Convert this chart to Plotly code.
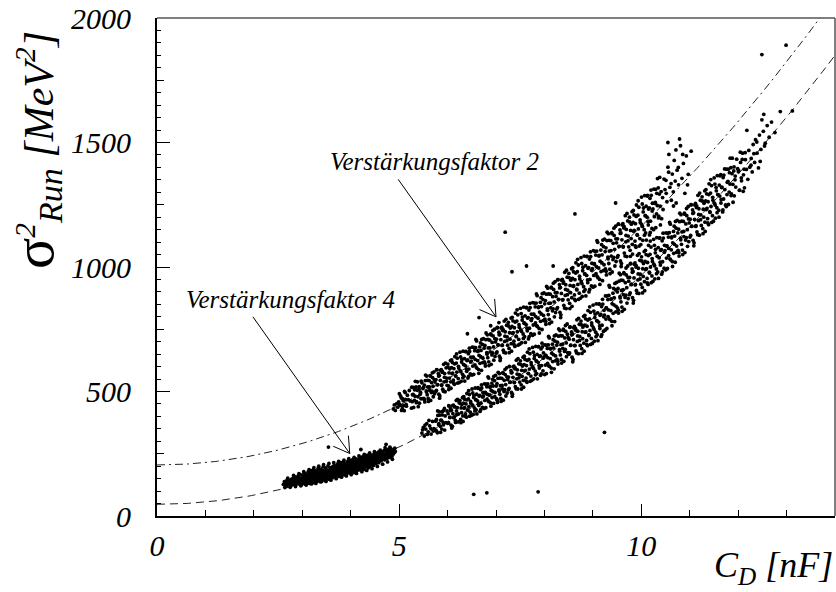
import math
import plotly.graph_objects as go

# Fit results: sigma^2 = a + b * C_D^2
fit_gain2 = (205.0, 9.58)
fit_gain4 = (47.0, 9.20)

x_range = [0, 14]
y_range = [0, 2000]
x_ticks = [0, 5, 10]
y_ticks = [0, 500, 1000, 1500, 2000]

# Runs taken with amplification factor 4 (small C_D)
gain4_points = [
    (2.61,127),(2.63,138),(2.64,124),(2.66,133),(2.67,141),(2.68,121),(2.69,130),(2.70,136),
    (2.71,129),(2.72,144),(2.73,134),(2.74,123),(2.76,140),(2.77,131),(2.78,148),(2.79,126),
    (2.80,139),(2.81,151),(2.82,128),(2.83,145),(2.84,135),(2.85,157),(2.86,124),(2.87,143),(2.88,132),(2.89,150),
    (2.90,138),(2.91,160),(2.92,129),(2.93,148),(2.94,153),(2.95,134),(2.96,166),(2.97,143),(2.98,126),(2.99,151),
    (3.00,145),(3.01,163),(3.01,131),(3.02,157),(3.03,140),(3.04,172),(3.05,149),(3.06,128),(3.06,160),(3.07,137),(3.08,154),(3.08,168),(3.09,143),(3.10,132),
    (3.10,161),(3.11,148),(3.12,177),(3.12,136),(3.13,155),(3.14,166),(3.15,131),(3.15,151),(3.16,172),(3.17,143),(3.18,159),(3.18,182),(3.19,139),(3.20,164),
    (3.20,149),(3.21,175),(3.22,134),(3.22,160),(3.23,187),(3.24,152),(3.25,168),(3.26,141),(3.26,179),(3.27,157),(3.28,136),(3.29,171),(3.29,162),(3.30,146),
    (3.30,183),(3.31,158),(3.32,140),(3.32,173),(3.33,192),(3.34,151),(3.35,166),(3.36,179),(3.36,144),(3.37,162),(3.38,188),(3.39,155),(3.39,172),(3.40,139),
    (3.40,167),(3.41,184),(3.42,151),(3.43,197),(3.43,163),(3.44,175),(3.45,145),(3.46,181),(3.46,158),(3.47,170),(3.48,193),(3.48,149),(3.49,176),(3.50,162),
    (3.50,186),(3.51,155),(3.52,174),(3.53,201),(3.53,166),(3.54,148),(3.55,182),(3.56,170),(3.57,194),(3.57,159),(3.58,178),(3.59,153),(3.60,188),(3.60,171),
    (3.61,163),(3.62,197),(3.62,178),(3.63,154),(3.64,186),(3.65,170),(3.66,204),(3.66,160),(3.67,182),(3.68,193),(3.69,167),(3.69,157),(3.70,189),(3.70,176),
    (3.71,198),(3.72,165),(3.72,184),(3.73,209),(3.74,174),(3.75,191),(3.76,159),(3.76,180),(3.77,202),(3.78,170),(3.79,188),(3.79,214),(3.80,163),(3.80,195),
    (3.81,182),(3.82,203),(3.82,171),(3.83,190),(3.84,216),(3.85,177),(3.86,196),(3.86,165),(3.87,207),(3.88,186),(3.88,174),(3.89,199),(3.90,181),(3.90,212),
    (3.91,169),(3.92,193),(3.92,205),(3.93,183),(3.94,220),(3.95,176),(3.96,200),(3.96,189),(3.97,211),(3.98,172),(3.98,196),(3.99,184),(4.00,207),(4.00,222),
    (4.01,190),(4.02,178),(4.02,214),(4.03,199),(4.04,226),(4.05,185),(4.06,208),(4.06,174),(4.07,195),(4.08,219),(4.08,203),(4.09,182),(4.10,211),(4.10,192),
    (4.11,229),(4.12,198),(4.12,180),(4.13,214),(4.14,205),(4.15,190),(4.16,223),(4.16,209),(4.17,185),(4.18,217),(4.18,232),(4.19,197),(4.20,208),(4.20,188),
    (4.21,221),(4.22,201),(4.22,236),(4.23,190),(4.24,214),(4.25,226),(4.26,196),(4.26,209),(4.27,240),(4.28,219),(4.28,187),(4.29,205),(4.30,230),(4.30,216),
    (4.31,198),(4.32,227),(4.32,212),(4.33,243),(4.34,204),(4.35,221),(4.36,193),(4.36,234),(4.37,215),(4.38,247),(4.38,209),(4.39,226),(4.40,199),(4.40,238),
    (4.41,218),(4.42,232),(4.42,205),(4.43,244),(4.44,221),(4.45,212),(4.46,239),(4.46,228),(4.47,203),(4.48,248),(4.48,225),(4.49,214),(4.50,236),(4.50,219),
    (4.51,243),(4.52,224),(4.52,210),(4.53,251),(4.54,233),(4.55,218),(4.56,240),(4.56,227),(4.57,256),(4.58,214),(4.58,237),(4.59,229),(4.60,247),(4.60,221),
    (4.61,232),(4.62,251),(4.63,222),(4.64,241),(4.65,258),(4.66,229),(4.67,246),(4.68,236),(4.69,262),(4.70,226),
    (4.71,249),(4.72,237),(4.73,264),(4.74,245),(4.75,231),(4.76,255),(4.77,241),(4.78,268),(4.79,250),(4.80,236),
    (4.81,258),(4.82,246),(4.83,270),(4.84,253),(4.85,240),(4.86,262),(4.88,249),(4.89,266),(4.90,255),(4.92,259),
    (2.64,114),(2.70,152),(2.75,115),(2.82,163),(2.86,118),(2.93,170),(2.97,121),(3.03,178),(3.08,124),(3.14,186),
    (3.19,129),(3.24,194),(3.28,131),(3.34,200),(3.38,137),(3.44,206),(3.49,139),(3.55,211),(3.59,144),(3.65,214),
    (3.70,150),(3.75,219),(3.81,156),(3.86,224),(3.91,161),(3.96,230),(4.01,166),(4.07,235),(4.12,171),(4.17,241),
    (4.23,178),(4.28,247),(4.33,183),(4.39,253),(4.44,190),(4.49,258),(4.55,199),(4.61,264),(4.66,208),(4.71,274),
    (4.76,217),(4.81,277),(4.86,228),(4.91,272),
]

# Amplification factor 2, runs following the upper fit
band_high_points = [
    (4.88,430),(4.90,446),(4.92,424),(4.95,451),(4.97,437),(4.99,458),
    (5.01,448),(5.03,482),(5.05,424),(5.07,471),(5.09,443),(5.11,500),(5.13,468),(5.15,441),(5.17,485),(5.19,467),(5.21,504),(5.23,462),
    (5.26,517),(5.27,459),(5.29,488),(5.30,436),(5.32,507),(5.33,481),(5.35,518),(5.36,459),(5.38,539),(5.39,479),(5.41,509),(5.42,453),(5.44,497),(5.45,471),(5.47,535),(5.49,512),
    (5.51,472),(5.52,526),(5.53,458),(5.54,544),(5.56,502),(5.57,562),(5.58,487),(5.59,518),(5.60,472),(5.62,544),(5.63,505),(5.64,564),(5.65,464),(5.67,536),(5.68,501),(5.69,556),(5.70,521),(5.72,579),(5.73,491),(5.74,538),
    (5.76,548),(5.77,504),(5.78,587),(5.79,527),(5.81,572),(5.82,489),(5.83,564),(5.84,482),(5.85,545),(5.87,588),(5.88,527),(5.89,577),(5.90,509),(5.92,609),(5.93,539),(5.94,572),(5.95,499),(5.97,595),(5.98,554),(5.99,525),
    (6.01,598),(6.02,522),(6.03,575),(6.04,554),(6.06,624),(6.07,513),(6.08,596),(6.09,572),(6.10,616),(6.12,546),(6.13,592),(6.14,529),(6.15,640),(6.17,562),(6.18,614),(6.19,578),(6.20,634),(6.22,552),(6.23,594),(6.24,536),
    (6.26,584),(6.27,639),(6.28,541),(6.29,618),(6.31,569),(6.32,662),(6.33,608),(6.34,561),(6.35,632),(6.37,603),(6.38,661),(6.39,589),(6.40,624),(6.42,554),(6.43,652),(6.44,590),(6.45,674),(6.47,571),(6.48,638),(6.49,622),
    (6.51,678),(6.52,602),(6.53,638),(6.54,569),(6.56,664),(6.57,629),(6.58,676),(6.59,598),(6.60,703),(6.62,624),(6.63,664),(6.64,588),(6.65,645),(6.67,613),(6.68,695),(6.69,665),(6.70,585),(6.72,689),(6.73,634),(6.74,712),
    (6.76,619),(6.77,685),(6.78,602),(6.79,708),(6.81,656),(6.82,728),(6.83,636),(6.84,675),(6.85,619),(6.87,706),(6.88,659),(6.89,731),(6.90,609),(6.92,697),(6.93,655),(6.94,723),(6.95,679),(6.97,750),(6.98,641),(6.99,699),
    (7.01,710),(7.02,659),(7.03,756),(7.04,687),(7.06,738),(7.07,642),(7.08,729),(7.09,634),(7.10,708),(7.12,758),(7.13,686),(7.14,745),(7.15,666),(7.17,783),(7.18,701),(7.19,740),(7.20,655),(7.22,766),(7.23,719),(7.24,686),
    (7.26,763),(7.27,673),(7.28,736),(7.29,710),(7.31,795),(7.32,662),(7.33,761),(7.34,734),(7.35,784),(7.37,702),(7.38,756),(7.39,681),(7.40,815),(7.42,720),(7.43,783),(7.44,740),(7.45,808),(7.47,709),(7.48,758),(7.49,690),
    (7.51,747),(7.52,813),(7.53,696),(7.54,787),(7.56,731),(7.57,839),(7.58,775),(7.59,720),(7.60,804),(7.62,769),(7.63,838),(7.64,754),(7.65,795),(7.67,711),(7.68,827),(7.69,754),(7.70,854),(7.72,732),(7.73,811),(7.74,793),
    (7.76,857),(7.77,767),(7.78,811),(7.79,730),(7.81,840),(7.82,801),(7.83,855),(7.84,764),(7.85,885),(7.87,794),(7.88,840),(7.89,753),(7.90,819),(7.92,782),(7.93,877),(7.94,841),(7.95,749),(7.97,869),(7.98,806),(7.99,896),
    (8.01,791),(8.02,865),(8.03,770),(8.04,891),(8.06,832),(8.07,915),(8.08,809),(8.09,854),(8.10,790),(8.12,891),(8.13,836),(8.14,919),(8.15,779),(8.17,881),(8.18,832),(8.19,910),(8.20,860),(8.22,941),(8.23,817),(8.24,882),
    (8.26,897),(8.27,837),(8.28,949),(8.29,869),(8.31,929),(8.32,818),(8.33,918),(8.34,808),(8.35,894),(8.37,950),(8.38,869),(8.39,935),(8.40,846),(8.42,979),(8.43,886),(8.44,929),(8.45,833),(8.47,959),(8.48,907),(8.49,868),
    (8.51,957),(8.52,854),(8.53,926),(8.54,897),(8.56,993),(8.57,842),(8.58,954),(8.59,923),(8.60,981),(8.62,888),(8.63,949),(8.64,865),(8.65,1017),(8.67,908),(8.68,981),(8.69,930),(8.70,1008),(8.72,895),(8.73,952),(8.74,874),
    (8.76,941),(8.77,1014),(8.78,882),(8.79,985),(8.81,921),(8.82,1044),(8.83,972),(8.84,909),(8.85,1005),(8.87,966),(8.88,1043),(8.89,948),(8.90,995),(8.92,900),(8.93,1032),(8.94,950),(8.95,1061),(8.97,924),(8.98,1015),(8.99,993),
    (9.01,1066),(9.02,966),(9.03,1013),(9.04,923),(9.06,1048),(9.07,1002),(9.08,1064),(9.09,962),(9.10,1099),(9.12,996),(9.13,1047),(9.14,950),(9.15,1023),(9.17,982),(9.18,1090),(9.19,1049),(9.20,945),(9.22,1082),(9.23,1009),(9.24,1112),
    (9.26,992),(9.27,1077),(9.28,968),(9.29,1106),(9.31,1040),(9.32,1134),(9.33,1014),(9.34,1064),(9.35,991),(9.37,1106),(9.38,1044),(9.39,1138),(9.40,980),(9.42,1095),(9.43,1039),(9.44,1127),(9.45,1071),(9.47,1164),(9.48,1022),(9.49,1097),
    (9.51,1113),(9.52,1046),(9.53,1172),(9.54,1082),(9.56,1149),(9.57,1024),(9.58,1137),(9.59,1014),(9.60,1109),(9.62,1174),(9.63,1082),(9.64,1157),(9.65,1056),(9.67,1206),(9.68,1101),(9.69,1151),(9.70,1042),(9.72,1185),(9.73,1124),(9.74,1081),
    (9.76,1181),(9.77,1067),(9.78,1147),(9.79,1114),(9.81,1222),(9.82,1052),(9.83,1179),(9.84,1144),(9.85,1209),(9.87,1104),(9.88,1174),(9.89,1079),(9.90,1249),(9.92,1128),(9.93,1208),(9.94,1153),(9.95,1240),(9.97,1114),(9.98,1178),(9.99,1090),
    (10.01,1171),(10.02,1253),(10.03,1107),(10.04,1221),(10.06,1150),(10.07,1287),(10.08,1206),(10.09,1137),(10.10,1244),(10.12,1200),(10.13,1288),(10.14,1182),(10.15,1233),(10.17,1129),(10.18,1276),(10.19,1184),(10.20,1309),(10.22,1155),(10.23,1256),(10.24,1233),
    (10.26,1313),(10.27,1202),(10.29,1259),(10.30,1158),(10.32,1296),(10.33,1247),(10.35,1318),(10.36,1204),(10.38,1360),(10.39,1244),(10.41,1303),(10.42,1194),(10.44,1279),(10.45,1231),(10.47,1353),(10.49,1311),
    (10.51,1348),(10.53,1262),(10.55,1401),(10.57,1452),(10.59,1320),(10.62,1268),(10.64,1373),(10.66,1302),(10.68,1428),(10.70,1345),(10.72,1257),(10.74,1389),
    (10.77,1330),(10.79,1514),(10.81,1487),(10.84,1356),(10.87,1416),(10.90,1296),(10.93,1446),(10.97,1372),(11.03,1465),
    # second pass over the same band
    (5.005,491),(5.025,444),(5.045,474),(5.065,431),(5.085,463),(5.105,423),(5.125,496),(5.145,448),
    (5.255,433),(5.275,487),(5.295,516),(5.315,464),(5.335,541),(5.355,455),(5.375,505),(5.395,439),(5.415,519),(5.435,489),(5.455,542),(5.475,471),
    (5.505,517),(5.525,467),(5.545,566),(5.565,498),(5.585,545),(5.605,460),(5.625,518),(5.645,562),(5.665,496),(5.685,575),(5.705,479),(5.725,548),
    (5.755,500),(5.775,588),(5.795,528),(5.815,562),(5.835,473),(5.855,585),(5.875,525),(5.895,580),(5.915,501),(5.935,557),(5.955,614),(5.975,541),
    (6.005,610),(6.025,508),(6.045,591),(6.065,539),(6.085,627),(6.105,574),(6.125,535),(6.145,611),(6.165,563),(6.185,651),(6.205,534),(6.225,601),
    (6.255,658),(6.275,579),(6.295,629),(6.315,555),(6.335,608),(6.355,542),(6.375,660),(6.395,581),(6.415,627),(6.435,561),(6.455,661),(6.475,618),
    (6.505,566),(6.525,637),(6.545,677),(6.565,607),(6.585,709),(6.605,594),(6.625,661),(6.645,573),(6.665,679),(6.685,640),(6.705,709),(6.725,616),
    (6.755,674),(6.775,612),(6.795,735),(6.815,650),(6.835,709),(6.855,604),(6.875,675),(6.895,728),(6.915,647),(6.935,745),(6.955,626),(6.975,712),
    (7.005,654),(7.025,757),(7.045,687),(7.065,728),(7.085,624),(7.105,755),(7.125,685),(7.145,749),(7.165,657),(7.185,722),(7.205,790),(7.225,704),
    (7.255,778),(7.275,656),(7.295,755),(7.315,692),(7.335,798),(7.355,736),(7.375,688),(7.395,779),(7.415,722),(7.435,828),(7.455,686),(7.475,768),
    (7.505,834),(7.525,742),(7.545,799),(7.565,713),(7.585,774),(7.605,697),(7.625,836),(7.645,744),(7.665,797),(7.685,720),(7.705,837),(7.725,786),
    (7.755,726),(7.775,810),(7.795,855),(7.815,775),(7.835,892),(7.855,761),(7.875,837),(7.895,735),(7.915,858),(7.935,812),(7.955,893),(7.975,785),
    (8.005,852),(8.025,782),(8.045,922),(8.065,826),(8.085,892),(8.105,773),(8.125,855),(8.145,916),(8.165,824),(8.185,935),(8.205,800),(8.225,897),
    (8.255,831),(8.275,949),(8.295,870),(8.315,916),(8.335,797),(8.355,947),(8.375,867),(8.395,940),(8.415,835),(8.435,910),(8.455,987),(8.475,889),
    (8.505,974),(8.525,833),(8.545,947),(8.565,877),(8.585,997),(8.605,925),(8.625,870),(8.645,976),(8.665,911),(8.685,1031),(8.705,870),(8.725,963),
    (8.755,1038),(8.775,933),(8.795,999),(8.815,902),(8.835,972),(8.855,884),(8.875,1042),(8.895,937),(8.915,997),(8.935,910),(8.955,1042),(8.975,987),
    (9.005,919),(9.025,1012),(9.045,1063),(9.065,973),(9.085,1106),(9.105,957),(9.125,1044),(9.145,930),(9.165,1068),(9.185,1017),(9.205,1108),(9.225,986),
    (9.255,1062),(9.275,983),(9.295,1140),(9.315,1033),(9.335,1107),(9.355,973),(9.375,1066),(9.395,1134),(9.415,1030),(9.435,1156),(9.455,1004),(9.475,1113),
    (9.505,1039),(9.525,1172),(9.545,1083),(9.565,1135),(9.585,1002),(9.605,1169),(9.625,1080),(9.645,1163),(9.665,1044),(9.685,1127),(9.705,1215),(9.725,1105),
    (9.755,1200),(9.775,1043),(9.795,1172),(9.815,1091),(9.835,1227),(9.855,1147),(9.875,1085),(9.895,1203),(9.915,1130),(9.935,1266),(9.955,1084),(9.975,1189),
    (10.005,1281),(10.025,1163),(10.045,1237),(10.065,1128),(10.085,1206),(10.105,1108),(10.125,1285),(10.145,1169),(10.165,1237),(10.185,1139),(10.205,1288),(10.225,1225),
    (10.255,1150),(10.275,1256),(10.295,1312),(10.315,1213),(10.335,1355),(10.355,1197),(10.375,1293),(10.395,1169),
    (10.515,1296),(10.565,1381),(10.615,1335),(10.665,1245),(10.715,1470),(10.765,1400),(10.855,1452),(10.955,1330),
]

# Amplification factor 2, runs following the lower fit
band_low_points = [
    (5.47,333),(5.50,356),(5.52,321),(5.55,349),(5.57,371),(5.60,338),(5.63,362),(5.66,329),(5.69,380),(5.72,351),
    (5.76,344),(5.77,388),(5.79,334),(5.80,404),(5.82,371),(5.83,419),(5.85,360),(5.86,385),(5.88,349),(5.89,406),(5.91,376),(5.92,424),(5.94,345),(5.95,402),(5.97,375),(5.99,422),
    (6.01,411),(6.02,375),(6.03,442),(6.05,396),(6.06,431),(6.07,365),(6.08,425),(6.10,360),(6.11,411),(6.12,445),(6.14,398),(6.15,438),(6.16,384),(6.18,464),(6.19,408),(6.20,435),(6.22,378),(6.24,455),
    (6.26,452),(6.27,388),(6.28,434),(6.29,415),(6.31,476),(6.32,380),(6.33,453),(6.34,433),(6.35,469),(6.37,410),(6.38,450),(6.39,397),(6.40,492),(6.42,424),(6.43,470),(6.44,439),(6.45,488),(6.47,417),(6.48,453),(6.49,404),
    (6.51,446),(6.52,494),(6.53,408),(6.54,476),(6.56,433),(6.57,514),(6.58,467),(6.59,426),(6.60,489),(6.62,462),(6.63,515),(6.64,452),(6.65,482),(6.67,420),(6.68,508),(6.69,453),(6.70,527),(6.72,436),(6.73,496),(6.74,482),
    (6.76,531),(6.77,464),(6.78,496),(6.79,435),(6.81,519),(6.82,489),(6.83,531),(6.84,462),(6.85,554),(6.87,486),(6.88,520),(6.89,454),(6.90,504),(6.92,476),(6.93,549),(6.94,522),(6.95,452),(6.97,544),(6.98,496),(6.99,565),
    (7.01,471),(7.02,532),(7.03,456),(7.04,553),(7.06,506),(7.07,572),(7.08,489),(7.09,523),(7.10,472),(7.12,553),(7.13,510),(7.14,576),(7.15,465),(7.17,545),(7.18,507),(7.19,568),(7.20,528),(7.22,595),(7.23,494),(7.24,548),
    (7.26,558),(7.27,512),(7.28,600),(7.29,537),(7.31,584),(7.32,496),(7.33,576),(7.34,489),(7.35,557),(7.37,602),(7.38,537),(7.39,591),(7.40,519),(7.42,626),(7.43,551),(7.44,587),(7.45,510),(7.47,611),(7.48,568),(7.49,538),
    (7.51,609),(7.52,527),(7.53,585),(7.54,561),(7.56,638),(7.57,517),(7.58,608),(7.59,583),(7.60,629),(7.62,554),(7.63,604),(7.64,537),(7.65,658),(7.67,572),(7.68,629),(7.69,590),(7.70,652),(7.72,562),(7.73,607),(7.74,545),
    (7.76,597),(7.77,658),(7.78,551),(7.79,633),(7.81,582),(7.82,681),(7.83,623),(7.84,572),(7.85,649),(7.87,617),(7.88,680),(7.89,604),(7.90,641),(7.92,565),(7.93,671),(7.94,604),(7.95,694),(7.97,583),(7.98,655),(7.99,639),
    (8.01,687),(8.02,606),(8.03,645),(8.04,572),(8.06,673),(8.07,636),(8.08,687),(8.09,603),(8.10,715),(8.12,632),(8.13,673),(8.14,594),(8.15,654),(8.17,620),(8.18,708),(8.19,675),(8.20,591),(8.22,702),(8.23,643),(8.24,727),
    (8.26,629),(8.27,698),(8.28,610),(8.29,722),(8.31,668),(8.32,745),(8.33,647),(8.34,688),(8.35,629),(8.37,723),(8.38,673),(8.39,750),(8.40,621),(8.42,715),(8.43,669),(8.44,741),(8.45,695),(8.47,771),(8.48,656),(8.49,717),
    (8.51,710),(8.52,655),(8.53,759),(8.54,685),(8.56,739),(8.57,638),(8.58,731),(8.59,629),(8.60,708),(8.62,761),(8.63,685),(8.64,747),(8.65,663),(8.67,788),(8.68,701),(8.69,742),(8.70,652),(8.72,770),(8.73,721),(8.74,685),
    (8.76,768),(8.77,672),(8.78,740),(8.79,712),(8.81,802),(8.82,662),(8.83,766),(8.84,738),(8.85,792),(8.87,705),(8.88,762),(8.89,684),(8.90,825),(8.92,725),(8.93,792),(8.94,745),(8.95,818),(8.97,713),(8.98,766),(8.99,693),
    (9.01,756),(9.02,823),(9.03,702),(9.04,797),(9.06,738),(9.07,852),(9.08,784),(9.09,728),(9.10,816),(9.12,779),(9.13,852),(9.14,764),(9.15,806),(9.17,721),(9.18,841),(9.19,766),(9.20,870),(9.22,742),(9.23,826),(9.24,807),
    (9.26,884),(9.27,791),(9.28,836),(9.29,753),(9.31,869),(9.32,828),(9.33,886),(9.34,791),(9.35,919),(9.37,825),(9.38,872),(9.39,782),(9.40,852),(9.42,814),(9.43,914),(9.44,877),(9.45,781),(9.47,908),(9.48,842),(9.49,938),
    (9.51,835),(9.52,914),(9.53,815),(9.54,943),(9.56,881),(9.57,969),(9.58,860),(9.59,906),(9.60,839),(9.62,946),(9.63,889),(9.64,977),(9.65,830),(9.67,937),(9.68,887),(9.69,968),(9.70,917),(9.72,1004),(9.73,873),(9.74,943),
    (9.76,958),(9.77,896),(9.78,1014),(9.79,929),(9.81,992),(9.82,877),(9.83,982),(9.84,866),(9.85,956),(9.87,1016),(9.88,930),(9.89,1000),(9.90,906),(9.92,1047),(9.93,948),(9.94,995),(9.95,894),(9.97,1027),(9.98,971),(9.99,931),
    (10.01,1024),(10.02,918),(10.03,993),(10.04,962),(10.06,1062),(10.07,905),(10.08,1022),(10.09,990),(10.10,1050),(10.12,954),(10.13,1018),(10.14,930),(10.15,1087),(10.17,976),(10.18,1051),(10.19,1000),(10.20,1080),(10.22,964),(10.23,1022),(10.24,942),
    (10.26,1011),(10.27,1087),(10.28,952),(10.29,1057),(10.31,992),(10.32,1118),(10.33,1043),(10.34,980),(10.35,1078),(10.37,1037),(10.38,1117),(10.39,1019),(10.40,1067),(10.42,971),(10.43,1105),(10.44,1021),(10.45,1136),(10.47,995),(10.48,1087),(10.49,1066),
    (10.51,1137),(10.52,1036),(10.53,1085),(10.54,994),(10.56,1120),(10.57,1075),(10.58,1138),(10.59,1033),(10.60,1172),(10.62,1069),(10.63,1121),(10.64,1022),(10.65,1097),(10.67,1055),(10.68,1164),(10.69,1124),(10.70,1019),(10.72,1156),(10.73,1084),(10.74,1187),
    (10.76,1067),(10.77,1152),(10.78,1044),(10.79,1182),(10.81,1116),(10.82,1210),(10.83,1091),(10.84,1141),(10.85,1068),(10.87,1183),(10.88,1122),(10.89,1216),(10.90,1058),(10.92,1173),(10.93,1118),(10.94,1206),(10.95,1150),(10.97,1243),(10.98,1102),(10.99,1177),
    (11.01,1192),(11.02,1127),(11.03,1250),(11.04,1163),(11.06,1229),(11.07,1107),(11.08,1218),(11.09,1097),(11.10,1191),(11.12,1255),(11.13,1166),(11.14,1239),(11.15,1141),(11.17,1288),(11.18,1186),(11.19,1234),(11.20,1128),(11.22,1268),(11.23,1209),(11.24,1167),
    (11.26,1265),(11.27,1154),(11.28,1232),(11.29,1200),(11.31,1306),(11.32,1143),(11.33,1265),(11.34,1231),(11.35,1294),(11.37,1194),(11.38,1262),(11.39,1170),(11.40,1334),(11.42,1219),(11.43,1297),(11.44,1243),(11.45,1327),(11.47,1206),(11.48,1268),(11.49,1184),
    (11.51,1256),(11.52,1333),(11.53,1196),(11.55,1306),(11.56,1238),(11.57,1367),(11.58,1291),(11.60,1228),(11.61,1329),(11.62,1285),(11.64,1371),(11.65,1271),(11.66,1319),(11.68,1221),(11.69,1359),(11.70,1273),(11.72,1394),(11.74,1249),
    (11.76,1393),(11.77,1291),(11.79,1344),(11.80,1251),(11.82,1379),(11.83,1333),(11.85,1399),(11.86,1294),(11.88,1437),(11.89,1332),(11.91,1386),(11.92,1286),(11.94,1365),(11.95,1321),(11.97,1433),(11.99,1395),
    (12.01,1388),(12.03,1309),(12.05,1420),(12.07,1346),(12.09,1457),(12.11,1370),(12.13,1318),(12.15,1431),(12.17,1392),(12.18,1549),(12.20,1352),(12.22,1468),(12.24,1401),
    (12.27,1436),(12.29,1382),(12.31,1492),(12.34,1420),(12.36,1511),(12.39,1457),(12.42,1398),(12.44,1530),(12.47,1472),(12.49,1591),
    (12.52,1545),(12.53,1613),(12.56,1497),(12.60,1568),(12.64,1521),(12.69,1582),(12.76,1540),(12.87,1624),(13.12,1627),
    # second pass over the same band
    (5.485,346),(5.535,365),(5.585,328),(5.615,384),(5.655,351),(5.705,341),
    (5.755,381),(5.775,340),(5.795,422),(5.815,366),(5.835,405),(5.855,336),(5.875,384),(5.895,420),(5.915,366),(5.935,432),
    (6.005,372),(6.025,443),(6.045,396),(6.065,423),(6.085,353),(6.105,443),(6.125,395),(6.145,439),(6.165,376),(6.185,422),(6.205,468),(6.225,410),
    (6.255,464),(6.275,375),(6.295,448),(6.315,402),(6.335,479),(6.355,435),(6.375,400),(6.395,466),(6.415,426),(6.435,503),(6.455,401),(6.475,460),
    (6.505,510),(6.525,442),(6.545,484),(6.565,422),(6.585,467),(6.605,410),(6.625,513),(6.645,444),(6.665,484),(6.685,427),(6.705,514),(6.725,478),
    (6.755,432),(6.775,495),(6.795,530),(6.815,469),(6.835,559),(6.855,459),(6.875,517),(6.895,441),(6.915,534),(6.935,500),(6.955,561),(6.975,479),
    (7.005,522),(7.025,465),(7.045,577),(7.065,501),(7.085,554),(7.105,460),(7.125,524),(7.145,573),(7.165,500),(7.185,588),(7.205,482),(7.225,559),
    (7.255,507),(7.275,601),(7.295,538),(7.315,575),(7.335,481),(7.355,599),(7.375,536),(7.395,595),(7.415,511),(7.435,570),(7.455,632),(7.475,555),
    (7.505,623),(7.525,510),(7.545,602),(7.565,545),(7.585,642),(7.605,585),(7.625,541),(7.645,625),(7.665,573),(7.685,671),(7.705,541),(7.725,616),
    (7.755,677),(7.775,592),(7.795,645),(7.815,567),(7.835,622),(7.855,551),(7.875,680),(7.895,594),(7.915,643),(7.935,571),(7.955,679),(7.975,634),
    (8.005,568),(8.025,645),(8.045,686),(8.065,613),(8.085,721),(8.105,601),(8.125,671),(8.145,577),(8.165,690),(8.185,648),(8.205,723),(8.225,623),
    (8.255,686),(8.275,621),(8.295,751),(8.315,662),(8.335,724),(8.355,614),(8.375,690),(8.395,746),(8.415,661),(8.435,765),(8.455,640),(8.475,730),
    (8.505,650),(8.525,758),(8.545,686),(8.565,728),(8.585,619),(8.605,756),(8.625,684),(8.645,752),(8.665,655),(8.685,723),(8.705,794),(8.725,705),
    (8.755,783),(8.775,653),(8.795,759),(8.815,694),(8.835,806),(8.855,739),(8.875,689),(8.895,787),(8.915,727),(8.935,840),(8.955,689),(8.975,776),
    (9.005,847),(9.025,749),(9.045,811),(9.065,720),(9.085,785),(9.105,704),(9.125,851),(9.145,753),(9.165,810),(9.185,728),(9.205,851),(9.225,800),
    (9.255,747),(9.275,836),(9.295,884),(9.315,801),(9.335,926),(9.355,789),(9.375,870),(9.395,764),(9.415,895),(9.435,848),(9.455,934),(9.475,820),
    (9.505,900),(9.525,827),(9.545,975),(9.565,876),(9.585,947),(9.605,822),(9.625,909),(9.645,973),(9.665,878),(9.685,996),(9.705,855),(9.725,958),
    (9.755,889),(9.775,1013),(9.795,931),(9.815,979),(9.835,855),(9.855,1011),(9.875,928),(9.895,1005),(9.915,895),(9.935,972),(9.955,1054),(9.975,952),
    (10.005,1041),(10.025,896),(10.045,1014),(10.065,941),(10.085,1067),(10.105,993),(10.125,936),(10.145,1046),(10.165,979),(10.185,1104),(10.205,937),(10.225,1034),
    (10.255,1111),(10.275,1005),(10.295,1071),(10.315,973),(10.335,1043),(10.355,954),(10.375,1116),(10.395,1008),(10.415,1070),(10.435,980),(10.455,1116),(10.475,1059),
    (10.505,989),(10.525,1084),(10.545,1136),(10.565,1046),(10.585,1179),(10.605,1029),(10.625,1117),(10.645,1002),(10.665,1143),(10.685,1091),(10.705,1183),(10.725,1059),
    (10.755,1137),(10.775,1058),(10.795,1216),(10.815,1109),(10.835,1184),(10.855,1050),(10.875,1143),(10.895,1212),(10.915,1108),(10.935,1235),(10.955,1083),(10.975,1193),
    (11.005,1120),(11.025,1250),(11.045,1164),(11.065,1215),(11.085,1085),(11.105,1249),(11.125,1163),(11.145,1245),(11.165,1130),(11.185,1211),(11.205,1297),(11.225,1190),
    (11.255,1282),(11.275,1134),(11.295,1256),(11.315,1180),(11.335,1311),(11.355,1235),(11.375,1177),(11.395,1291),(11.415,1222),(11.435,1351),(11.455,1179),(11.475,1280),
    (11.505,1358),(11.525,1249),(11.545,1319),(11.565,1218),(11.585,1291),(11.605,1200),(11.625,1366),(11.645,1257),(11.665,1321),(11.685,1229),(11.705,1369),(11.725,1311),
    (11.755,1243),(11.775,1340),(11.795,1393),(11.815,1301),(11.835,1437),(11.855,1287),(11.875,1375),(11.895,1260),(11.915,1402),(11.935,1350),
    (12.005,1383),(12.025,1308),(12.045,1461),(12.065,1358),(12.085,1432),(12.105,1304),(12.125,1393),(12.145,1459),
    (12.265,1409),(12.325,1455),(12.385,1502),(12.455,1424),(12.545,1486),
]

# Isolated runs away from both bands
stray_points = [
    (6.54,87),(6.81,93),(7.87,97),(9.24,336),(3.54,277),(4.21,267),(4.73,288),
    (7.19,1140),(8.63,1213),(7.33,981),(7.63,1004),(8.18,1004),(9.47,1257),
    (12.49,1853),(12.99,1891),(6.65,797),(6.89,764),(7.06,777),(6.41,732),(10.55,1500),
]

# Labels with arrows: (text, text position, arrow tail, arrow tip)
labels = [
    ("Verstärkungsfaktor 2", (5.74, 1424), (4.98, 1352), (7.00, 800)),
    ("Verstärkungsfaktor 4", (2.75, 868), (1.98, 800), (3.98, 251)),
]

SERIF = "Liberation Serif"
W, H = 836, 592
M_L, M_R, M_T, M_B = 157, 1, 16, 76
px_x = (W - M_L - M_R) / (x_range[1] - x_range[0])
px_y = (H - M_T - M_B) / (y_range[1] - y_range[0])

fig = go.Figure()

# fitted curves
cx = [i * 0.05 for i in range(0, 281)]
for (a, b), dash in ((fit_gain2, "8px,4px,2px,4px"), (fit_gain4, "8px,5px")):
    fig.add_trace(go.Scatter(
        x=cx, y=[a + b * c * c for c in cx], mode="lines",
        line=dict(color="#222", width=1, dash=dash),
        hoverinfo="skip", showlegend=False,
    ))

for pts in (gain4_points, band_low_points, band_high_points, stray_points):
    xs, ys = zip(*pts)
    fig.add_trace(go.Scatter(
        x=list(xs), y=list(ys), mode="markers",
        marker=dict(color="black", size=3.8, line=dict(width=0)),
        showlegend=False,
    ))

# carrier for the secondary (medium length) y ticks
fig.add_trace(go.Scatter(x=[None], y=[None], yaxis="y2", showlegend=False))

shapes = []
annotations = []
for text, (tx, ty), (ax, ay), (hx, hy) in labels:
    annotations.append(dict(
        x=tx, y=ty, xref="x", yref="y", text=text, showarrow=False,
        font=dict(family=SERIF, size=25, color="black", style="italic"),
        xanchor="center", yanchor="middle",
    ))
    shapes.append(dict(type="line", xref="x", yref="y", x0=ax, y0=ay, x1=hx, y1=hy,
                       line=dict(color="black", width=1)))
    ang = math.atan2((ay - hy) * px_y, (ax - hx) * px_x)
    for s in (-1, 1):
        a2 = ang + s * math.radians(31)
        ex = hx + 18 * math.cos(a2) / px_x
        ey = hy + 18 * math.sin(a2) / px_y
        shapes.append(dict(type="line", xref="x", yref="y", x0=hx, y0=hy, x1=ex, y1=ey,
                           line=dict(color="black", width=1)))

# upper and right frame
shapes.append(dict(type="line", xref="paper", yref="paper", x0=0, y0=1, x1=1, y1=1,
                   line=dict(color="#555", width=1.5)))
shapes.append(dict(type="line", xref="paper", yref="paper", x0=1, y0=0, x1=1, y1=1,
                   line=dict(color="#555", width=1.5)))

annotations.append(dict(
    x=1.0, y=-0.104, xref="paper", yref="paper", xanchor="right", yanchor="middle",
    text="C<sub>D</sub> [nF]", showarrow=False,
    font=dict(family=SERIF, size=36, color="black", style="italic"),
))
annotations.append(dict(
    x=-0.18, y=0.735, xref="paper", yref="paper", xanchor="center", yanchor="middle",
    text=('<span style="font-style:normal;font-size:58px">σ</span><sup>2</sup>'
          '<sub><span style="font-size:34px">Run</span></sub> [MeV<sup>2</sup>]'),
    textangle=-90, showarrow=False,
    font=dict(family=SERIF, size=42, color="black", style="italic"),
))

tickfont = dict(family=SERIF, size=30, color="black", style="italic")
fig.update_layout(
    width=W, height=H,
    margin=dict(l=M_L, r=M_R, t=M_T, b=M_B, pad=0),
    paper_bgcolor="white", plot_bgcolor="white",
    xaxis=dict(
        range=x_range, tickvals=x_ticks, ticktext=[str(v) for v in x_ticks],
        ticks="inside", ticklen=12, tickwidth=1, tickcolor="black",
        showline=True, linewidth=2, linecolor="black",
        showgrid=False, zeroline=False, tickfont=tickfont, ticklabelstandoff=2,
        ticklabeloverflow="allow",
        minor=dict(dtick=1, tick0=0, ticks="inside", ticklen=6, tickwidth=1,
                   tickcolor="black", showgrid=False),
    ),
    yaxis=dict(
        range=y_range, tickvals=y_ticks, ticktext=[str(v) for v in y_ticks],
        ticks="inside", ticklen=13, tickwidth=1, tickcolor="black",
        showline=True, linewidth=2, linecolor="black",
        showgrid=False, zeroline=False, tickfont=tickfont, ticklabelstandoff=18,
        ticklabeloverflow="allow",
        minor=dict(dtick=50, tick0=0, ticks="inside", ticklen=4, tickwidth=1,
                   tickcolor="black", showgrid=False),
    ),
    yaxis2=dict(
        range=y_range, overlaying="y", side="left",
        tickvals=[250, 750, 1250, 1750], ticks="inside", ticklen=7, tickwidth=1,
        tickcolor="black", showticklabels=False, showline=False,
        showgrid=False, zeroline=False,
    ),
    shapes=shapes, annotations=annotations,
)

fig.write_html("out.html")
